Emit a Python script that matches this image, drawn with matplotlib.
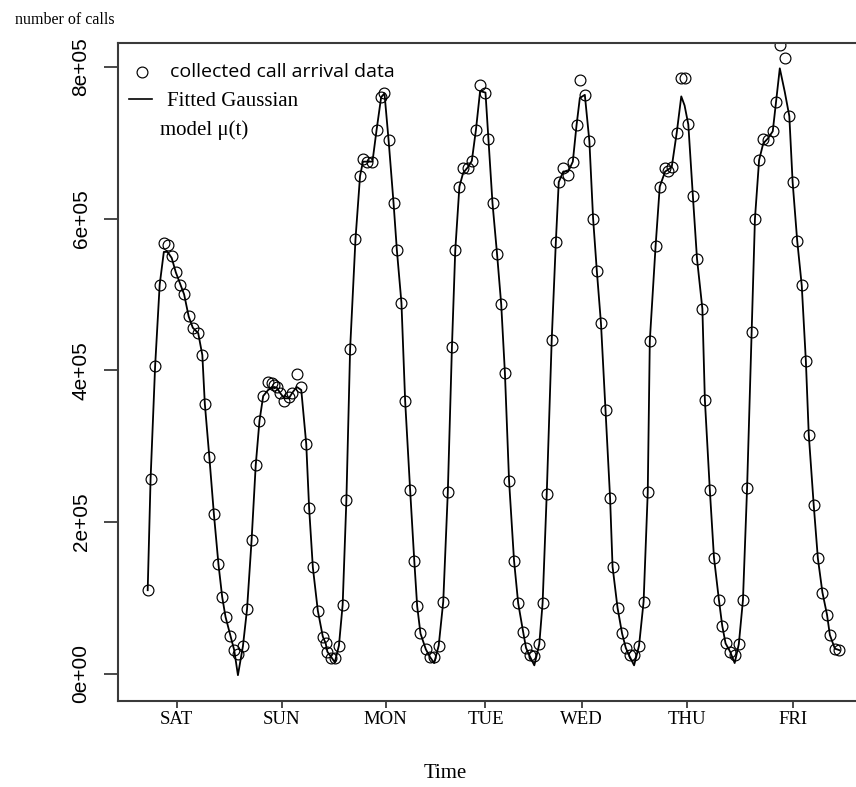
import matplotlib
matplotlib.use("Agg")
import matplotlib.pyplot as plt
import numpy as np

# hourly call arrivals over one week (time in hours, counts in thousands)
hours = [0.0, 0.7, 1.8, 2.9, 3.9, 4.8, 5.8, 6.8, 7.9, 8.8, 9.9, 10.9, 12.2, 13.2, 13.8,
         14.9, 16.0, 17.1, 18.0, 18.8, 20.0, 20.9, 21.8, 23.0, 24.0, 25.1, 26.1, 27.0,
         27.9, 29.1, 30.0, 30.5, 31.2, 32.0, 33.0, 34.1, 34.9, 36.0, 37.1, 38.3, 39.0,
         39.9, 41.1, 42.3, 43.0, 43.4, 44.2, 45.2, 46.2, 47.1, 48.0, 48.9, 50.2, 51.3,
         52.0, 53.1, 54.3, 55.3, 56.4, 57.2, 58.2, 59.4, 60.2, 61.3, 62.2, 63.4, 64.4,
         65.1, 65.9, 67.2, 68.2, 69.2, 70.3, 71.4, 72.5, 73.5, 74.3, 75.3, 76.2, 77.4,
         78.3, 79.3, 80.3, 81.6, 82.3, 83.3, 84.4, 85.4, 86.3, 87.3, 88.5, 89.5, 90.7,
         91.4, 92.3, 93.4, 94.6, 95.4, 96.4, 97.6, 98.6, 99.3, 100.4, 101.6, 102.7,
         103.6, 104.4, 105.6, 106.7, 107.6, 108.5, 109.5, 110.6, 111.7, 112.3, 113.5,
         114.6, 115.5, 116.4, 117.5, 118.7, 119.8, 120.8, 121.3, 122.7, 123.7, 125.0,
         125.6, 126.6, 127.8, 128.9, 129.7, 130.6, 131.7, 132.7, 134.0, 134.6, 135.8,
         136.8, 138.0, 138.8, 139.6, 140.7, 141.8, 142.8, 143.8, 144.8, 145.9, 146.7,
         147.7, 148.7, 149.9, 151.0, 151.8, 152.7, 153.9, 155.0, 155.8, 156.9, 158.0,
         159.0, 159.7, 160.9, 161.9, 163.0, 164.1, 164.8, 166.0, 167.1]

calls_k = [110, 257, 406, 513, 568, 565, 551, 529, 513, 500, 471, 456, 449, 420, 356,
           285, 210, 144, 101, 75, 50, 31, 26, 36, 85, 176, 275, 333,
           366, 384, 383, 381, 378, 370, 360, 365, 370, 395, 378, 303, 218,
           140, 83, 49, 40, 29, 21, 20, 37, 91, 229, 428, 573, 656,
           679, 675, 675, 717, 760, 765, 703, 620, 558, 489, 359, 242, 149,
           89, 53, 32, 22, 22, 37, 95, 239, 431, 558, 642, 666, 666,
           676, 717, 776, 766, 705, 620, 553, 487, 396, 254, 149, 93, 55,
           34, 24, 23, 39, 93, 237, 440, 569, 648, 666, 657, 675,
           723, 782, 763, 702, 600, 531, 462, 347, 232, 141, 87,
           53, 34, 25, 24, 37, 95, 239, 439, 564, 642, 666,
           662, 668, 713, 785, 785, 724, 630, 547, 481, 361, 242,
           153, 97, 63, 40, 29, 25, 39, 97, 245, 450, 600,
           677, 705, 703, 715, 754, 829, 812, 735, 648, 571, 512,
           412, 315, 222, 152, 107, 78, 51, 33, 31]

# fitted Gaussian model mu(t) at the same times
fitted_k = [110, 257, 406, 513, 556, 556, 548, 529, 513, 500, 471, 456, 449, 420, 356,
            285, 210, 144, 101, 75, 50, 31, -2, 36, 85, 176, 275, 333,
            366, 374, 377, 378, 377, 370, 363, 363, 370, 378, 374, 303, 218,
            140, 83, 49, 40, 29, 23, 15, 37, 91, 229, 428, 573, 656,
            675, 675, 675, 717, 760, 765, 703, 620, 558, 489, 359, 242, 149,
            89, 53, 32, 22, 14, 37, 95, 239, 431, 558, 642, 660, 668,
            676, 717, 768, 766, 705, 620, 553, 487, 396, 254, 149, 93, 55,
            34, 23, 11, 39, 93, 237, 440, 569, 648, 662, 662, 675,
            723, 759, 763, 702, 600, 531, 462, 347, 232, 141, 87,
            53, 34, 23, 11, 37, 95, 239, 439, 564, 642, 662,
            664, 668, 713, 761, 749, 724, 630, 547, 481, 361, 242,
            153, 97, 63, 40, 29, 14, 39, 97, 245, 450, 600,
            677, 699, 706, 715, 754, 798, 767, 735, 648, 571, 512,
            412, 315, 222, 152, 107, 78, 51, 33, 31]

day_ticks = [7.0, 32.4, 57.5, 81.6, 104.8, 130.3, 155.8]
day_labels = ["SAT", "SUN", "MON", "TUE", "WED", "THU", "FRI"]
y_ticks = [0, 200000, 400000, 600000, 800000]
y_labels = ["0e+00", "2e+05", "4e+05", "6e+05", "8e+05"]

SERIF = "Liberation Serif"
SANS = "Liberation Sans"
EDGE = "#3a3a3a"

t = np.array(hours)
calls = np.array(calls_k) * 1000.0
mu = np.array(fitted_k) * 1000.0

fig = plt.figure(figsize=(8.56, 7.87), dpi=100)
ax = fig.add_axes([0.1382, 0.1093, 0.8898, 0.8357])

ax.plot(t, mu, color="black", lw=1.3)
ax.plot(t, calls, ls="none", marker="o", ms=7.8, mfc="none", mec="black", mew=0.85)

ax.set_xlim(-7.1, 176.9)
ax.set_ylim(-36000, 831000)

ax.set_xticks(day_ticks)
ax.set_xticklabels(day_labels, fontfamily=SERIF, fontsize=13.5)
ax.set_yticks(y_ticks)
ax.set_yticklabels(y_labels, fontfamily=SANS, fontsize=15, rotation=90, va="center")

ax.tick_params(axis="x", length=5, width=1.3, color=EDGE, pad=2)
ax.tick_params(axis="y", length=10, width=1.3, color=EDGE, pad=10)

ax.spines["right"].set_visible(False)
for side in ("left", "bottom", "top"):
    ax.spines[side].set_color(EDGE)
    ax.spines[side].set_linewidth(1.5)

# legend drawn by hand: sans label for the points, serif label for the curve
ax.plot([0.0311], [0.9564], transform=ax.transAxes, ls="none", marker="o", ms=7.8,
        mfc="none", mec="black", mew=0.85, clip_on=False)
ax.text(0.0679, 0.9483, "collected call arrival data", transform=ax.transAxes,
        fontfamily="Open Sans", fontsize=14, va="baseline", ha="left")
ax.plot([0.0145, 0.0440], [0.9149, 0.9149], transform=ax.transAxes, color="black",
        lw=1.2, clip_on=False)
ax.text(0.0639, 0.9047, "Fitted Gaussian", transform=ax.transAxes,
        fontfamily=SERIF, fontsize=15, va="baseline", ha="left")
ax.text(0.0547, 0.8606, "model \u03bc(t)", transform=ax.transAxes,
        fontfamily=SERIF, fontsize=15, va="baseline", ha="left")

fig.text(0.0175, 0.9695, "number of calls", fontfamily=SERIF, fontsize=11.5,
         va="baseline", ha="left")
fig.text(0.5205, 0.012, "Time", fontfamily=SERIF, fontsize=15, va="baseline",
         ha="center")

fig.savefig("out.png", dpi=100)
